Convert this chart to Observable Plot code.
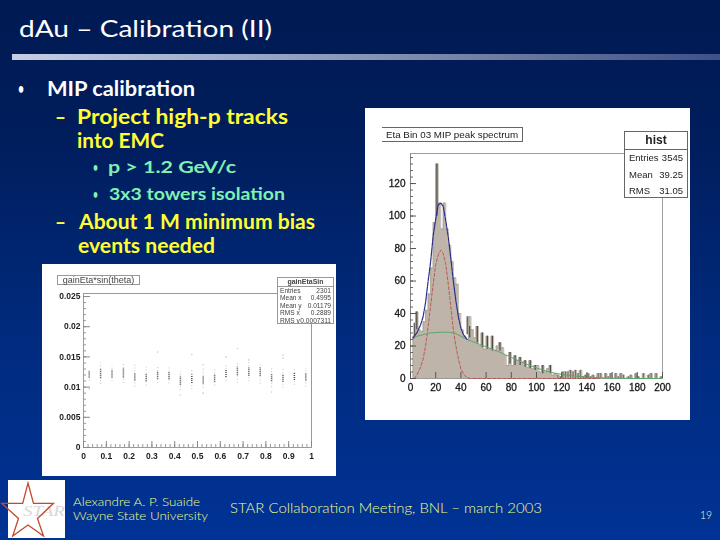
<!DOCTYPE html>
<html>
<head>
<meta charset="utf-8">
<script src="https://cdn.jsdelivr.net/npm/d3@7"></script>
<script src="https://cdn.jsdelivr.net/npm/@observablehq/plot@0.6"></script>
<style>
html,body{margin:0;padding:0;width:720px;height:540px;overflow:hidden;background:#002a80}
#slide{position:relative;width:720px;height:540px;background:linear-gradient(180deg,#001a52 0%,#001d5c 25%,#002a7c 60%,#003396 100%)}
#chrome{position:absolute;left:0;top:0}
.pl{position:absolute}
.pl svg{display:block}
#spec text{stroke:#222;stroke-width:.3}
.box{position:absolute;background:#fff;border:1px solid #666;box-sizing:border-box;font-family:"Liberation Sans",Arial,sans-serif;color:#222}
</style>
</head>
<body>
<div id="slide">
<svg id="chrome" width="720" height="540" xmlns="http://www.w3.org/2000/svg"></svg>
<div id="spec" class="pl" style="left:365px;top:108px;width:325px;height:312px;filter:blur(.4px)"></div>
<div id="gain" class="pl" style="left:42px;top:264px;width:294px;height:212px;filter:blur(.55px)"></div>
</div>
<script>
// ---- slide text: [text, x, baseline, size, weight, colour, width]
const slideText = [
  ["dAu – Calibration (II)", 19, 37, 24, 400, "#ffffff", 253],
  ["•", 18, 94, 16, 700, "#ffffff", 6],
  ["MIP calibration", 47, 96, 20, 700, "#ffffff", 148],
  ["–", 55, 124, 20, 700, "#ffff33", 11],
  ["Project high-p tracks", 77, 124, 20, 700, "#ffff33", 211],
  ["into EMC", 77, 148, 20, 700, "#ffff33", 87],
  ["•", 93, 172, 14, 700, "#80f0b0", 5],
  ["p > 1.2 GeV/c", 108, 173, 17, 700, "#80f0b0", 128],
  ["•", 93, 199, 14, 700, "#80f0b0", 5],
  ["3x3 towers isolation", 109, 200, 17, 700, "#80f0b0", 176],
  ["–", 55, 229, 20, 700, "#ffff33", 11],
  ["About 1 M minimum bias", 79, 229, 20, 700, "#ffff33", 236],
  ["events needed", 78, 253, 20, 700, "#ffff33", 137],
  ["Alexandre A. P. Suaide", 73, 506, 12, 300, "#f0ff88", 127],
  ["Wayne State University", 73, 520, 12, 300, "#f0ff88", 135],
  ["STAR Collaboration Meeting, BNL – march 2003", 230, 513, 14, 300, "#f0ff88", 312],
  ["19", 700, 519, 12, 300, "#f4ffc0", 12]
];

// ---- histogram: MIP peak spectrum, 2-unit bins starting at 0
const binStart = d3.range(0, 200, 2);
const binCounts = [
  0,26,41,30,29,35,42,52,68,96,
  132,108,92,108,92,82,72,62,58,40,
  30,26,23,38,30,25,32,20,28,18,
  26,18,26,17,20,22,19,14,8,16,
  8,14,11,13,10,11,7,11,6,8,
  8,4,8,4,6,8,2,3,2,1,
  4,4,4,5,4,5,3,5,1,2,
  3,1,2,0,3,3,0,3,1,3,
  0,3,1,3,2,0,1,2,0,3,
  1,0,3,0,2,3,0,3,0,1
];
// ---- spikes that stand out dark above the fit: centre, low, high
const spikeX    = [3,5,21,45,47,53,57,61,65,71,79,83,87,91,95,99,105,111];
const spikeLow  = [26,30,100,27,25,22,19,18,17,17,9,8,8,7,6,5,3,3];
const spikeHigh = [34,41,132,38,32,32,28,26,26,22,16,14,13,11,11,8,8,8];
// ---- fitted curves
const totalX = [2,5,8,10,12,14,16,18,20,22,24,26,28,30,32,34,36,38,40,42,45];
const totalY = [25,28,33,38,47,60,72,88,98,107,108,106,97,87,74,60,48,38,31,27,24];
const peakX = [3,5,8,10,12,14,16,18,20,22,24,26,28,30,32,34,36,38,40,42,44,47,80,120,150];
const peakY = [0,2,7,12,20,32,45,58,70,76,79,77,70,58,44,30,20,12,6,3,1,0,0,0,0];
const bgX = [2,5,10,15,20,25,30,35,40,45,50,60,70,80,90,100,110,120,130,140,150,160,180,200];
const bgY = [24.5,26,27,28,28.3,28.5,28.5,28,26,24,22.5,19.5,16.5,13,9.5,6.5,4,2.5,1.5,1,.5,.2,0,0];

// ---- gain scatter, per eta column (y in units of 0.001)
const etaBin   = [.025,.075,.125,.175,.225,.275,.325,.375,.425,.475,.525,.575,.625,.675,.725,.775,.825,.875,.925,.975];
const coreLow  = [11.5,11.4,11.5,11.5,11.0,10.9,11.3,11.2,10.3,10.6,10.5,10.8,11.6,11.9,11.8,11.8,10.9,10.8,11.1,11.0];
const coreHigh = [12.6,12.9,12.8,13.0,12.3,12.2,12.6,12.5,11.7,12.0,11.8,12.1,12.9,13.3,13.2,13.2,12.2,12.1,12.4,12.3];
const wideLow  = [11.0,10.4,10.9,10.6,10.0,10.2,10.6,10.5,9.4,9.6,9.8,10.2,10.9,10.7,10.9,10.5,9.9,9.8,10.3,10.0];
const wideHigh = [13.0,14.0,13.5,14.0,13.9,13.3,13.6,13.5,12.5,13.0,13.0,13.0,13.8,14.0,14.5,14.0,13.0,13.3,13.1,13.1];
const outX = [.025,.325,.425,.475,.525,.525,.625,.675,.725,.825,.875,.875];
const outY = [9.7,15.8,8.7,15.4,13.7,9.0,15.0,16.4,14.5,9.2,15.3,14.8];

// ---- axis ticks
const specXLabels = d3.range(0,201,20), specYLabels = d3.range(0,121,20);
const specYMinor = d3.range(0,137,4);
const gainXLabels = d3.range(0,11).map(d=>d/10), gainYLabels = [0,.005,.01,.015,.02,.025];
const gainXMinor = d3.range(0,51).map(d=>d/50), gainYMinor = d3.range(0,26).map(d=>d/1000);

// ---- stat boxes
const histStats = [["Entries","3545"],["Mean","39.25"],["RMS","31.05"]];
const gainStats = [["Entries","2301"],["Mean x","0.4995"],["Mean y","0.01179"],["RMS x","0.2889"],["RMS y","0.0007311"]];

// ---- chrome
const chrome = d3.select("#chrome");
const defs = chrome.append("defs");
const g = defs.append("linearGradient").attr("id","bar");
[[0,"#c4cfe4"],[.35,"#98a6c6"],[.7,"#6c7a9e"],[1,"#3f5088"]].forEach(([o,c])=>g.append("stop").attr("offset",o).attr("stop-color",c));
chrome.append("rect").attr("x",12).attr("y",54).attr("width",708).attr("height",6).attr("fill","url(#bar)");
for (const [t,x,y,s,w,c,l] of slideText) {
  chrome.append("text").text(t).attr("x",x).attr("y",y)
    .attr("font-family","Lato, 'Open Sans', sans-serif").attr("font-size",s).attr("font-weight",w).attr("fill",c)
    .attr("textLength",l).attr("lengthAdjust","spacingAndGlyphs");
}
chrome.append("rect").attr("x",8).attr("y",480).attr("width",57).attr("height",58).attr("fill","#fff");
chrome.append("text").text("STAR").attr("x",23).attr("y",516).attr("font-family","'Liberation Serif',serif")
  .attr("font-style","italic").attr("font-size",15).attr("fill","#d8d8d8").attr("textLength",42).attr("lengthAdjust","spacingAndGlyphs");
chrome.append("polygon").attr("points","28,483 33.5,503.3 53.5,503.3 37.5,518.5 43.5,536 28,525 12.7,536 18.5,518.5 1.7,503.3 22.7,503.3")
  .attr("fill","none").attr("stroke","#c4492c").attr("stroke-width",1.3);

// ---- MIP spectrum plot
const specOutline = binStart.map((x,i)=>({x,y:binCounts[i]})).concat([{x:200,y:0}]);
const tail = binStart.map((x,i)=>({x:x+1,y:binCounts[i]})).filter(d=>d.x>115&&d.y>0);
const font = '"Liberation Sans", Arial, sans-serif';
const specPlot = Plot.plot({
  width:325,height:312,marginLeft:45,marginRight:28,marginTop:45,marginBottom:42,
  style:{background:"#fff",fontFamily:font,fontSize:"10px",color:"#111"},
  x:{domain:[0,200]},y:{domain:[0,138.5]},
  marks:[
    Plot.areaY(specOutline,{x:"x",y:"y",curve:"step-after",fill:"#bfb4a9"}),
    Plot.lineY(specOutline,{x:"x",y:"y",curve:"step-after",stroke:"#a49c90",strokeWidth:.7}),
    Plot.ruleX(spikeX,{x:d=>d,y1:(d,i)=>spikeLow[i],y2:(d,i)=>spikeHigh[i],stroke:"#4a4840",strokeWidth:1.2}),
    Plot.ruleX(tail,{x:"x",y1:0,y2:"y",stroke:"#6a675f",strokeWidth:.9}),
    Plot.ruleY([0],{stroke:"#999"}),
    Plot.line(peakX.map((x,i)=>({x,y:peakY[i]})),{x:"x",y:"y",stroke:"#b8504a",strokeWidth:.9,strokeDasharray:"3,2"}),
    Plot.line(bgX.map((x,i)=>({x,y:bgY[i]})),{x:"x",y:"y",stroke:"#5aa86c",strokeWidth:1}),
    Plot.line(totalX.map((x,i)=>({x,y:totalY[i]})),{x:"x",y:"y",stroke:"#2a2f86",strokeWidth:1.2,strokeDasharray:"4,1"}),
    Plot.frame({stroke:"#a0a0a0",anchor:"top"}),
    Plot.frame({stroke:"#a0a0a0",anchor:"right"}),
    Plot.frame({stroke:"#888",anchor:"left"}),
    Plot.tickY(specYMinor,{y:d=>d,insetRight:249,stroke:"#666"}),
    Plot.tickY(specYLabels,{y:d=>d,insetRight:246,stroke:"#555"}),
    Plot.tickX(specXLabels,{x:d=>d,insetTop:219,stroke:"#555"}),
    Plot.axisX({ticks:specXLabels,tickSize:0,tickPadding:5,tickFormat:d=>d,label:null,fontSize:10}),
    Plot.axisY({ticks:specYLabels,tickSize:0,tickPadding:5,tickFormat:d=>d,label:null,fontSize:10})
  ]
});
document.getElementById("spec").append(specPlot);

// ---- gain plot
const gainPlot = Plot.plot({
  width:294,height:212,marginLeft:41,marginRight:25,marginTop:29,marginBottom:29,
  style:{background:"#fff",fontFamily:font,fontSize:"9px",color:"#222"},
  x:{domain:[0,1]},y:{domain:[0,.0255]},
  marks:[
    Plot.ruleX(etaBin,{x:d=>d,y1:(d,i)=>wideLow[i]/1000,y2:(d,i)=>wideHigh[i]/1000,stroke:"#ccc",strokeWidth:1.2,strokeDasharray:"1,2"}),
    Plot.ruleX(etaBin,{x:d=>d,y1:(d,i)=>coreLow[i]/1000,y2:(d,i)=>coreHigh[i]/1000,stroke:"#555",strokeWidth:1.5,strokeDasharray:"1,1"}),
    Plot.dot(outX,{x:d=>d,y:(d,i)=>outY[i]/1000,r:.8,fill:"#ccc"}),
    Plot.frame({stroke:"#9a9a9a"}),
    Plot.tickY(gainYMinor,{y:d=>d,insetRight:225,stroke:"#999"}),
    Plot.tickY(gainYLabels,{y:d=>d,insetRight:221,stroke:"#888"}),
    Plot.tickX(gainXMinor,{x:d=>d,insetTop:151,stroke:"#999"}),
    Plot.tickX(gainXLabels,{x:d=>d,insetTop:148,stroke:"#888"}),
    Plot.axisX({ticks:gainXLabels,tickSize:0,tickPadding:5,tickFormat:d=>d,label:null,fontWeight:"bold",fontSize:8.5}),
    Plot.axisY({ticks:gainYLabels,tickSize:0,tickPadding:3,tickFormat:d=>d,label:null,fontWeight:"bold",fontSize:8.5})
  ]
});
document.getElementById("gain").append(gainPlot);

// ---- title and stat boxes
const slide = document.getElementById("slide");
function box(x,y,w,h,html,st){
  const d=document.createElement("div");d.className="box";
  d.style.cssText=`left:${x}px;top:${y}px;width:${w}px;height:${h}px;${st||""}`;
  d.innerHTML=html;slide.append(d);
}
box(382,127,141,15,"Eta Bin 03 MIP peak spectrum","font-size:9.8px;line-height:13px;text-align:center;border-left:none;filter:blur(.35px)");
box(624,131,64,67,
  `<div style="height:17px;line-height:16px;text-align:center;font-size:12px;font-weight:bold;border-bottom:1px solid #666">hist</div>`+
  histStats.map(([k,v])=>`<div style="display:flex;justify-content:space-between;padding:0 4px;height:16.5px;line-height:16.5px;font-size:9.5px;color:#222"><span>${k}</span><span>${v}</span></div>`).join(""),"filter:blur(.35px)");
box(57,275,83,10,"gainEta*sin(theta)","font-size:9px;line-height:9px;text-align:center;color:#444;border-color:#999;filter:blur(.5px)");
box(277,277,57,47,
  `<div style="height:7.5px;line-height:8px;text-align:center;font-size:7px;font-weight:bold;color:#444;border-bottom:1px solid #999">gainEtaSin</div>`+
  gainStats.map(([k,v])=>`<div style="display:flex;justify-content:space-between;padding:0 2px;height:7.6px;line-height:7.6px;font-size:6.6px;color:#444;white-space:nowrap"><span>${k}</span><span>${v}</span></div>`).join(""),"border-color:#999;overflow:hidden;filter:blur(.5px)");
</script>
</body>
</html>
